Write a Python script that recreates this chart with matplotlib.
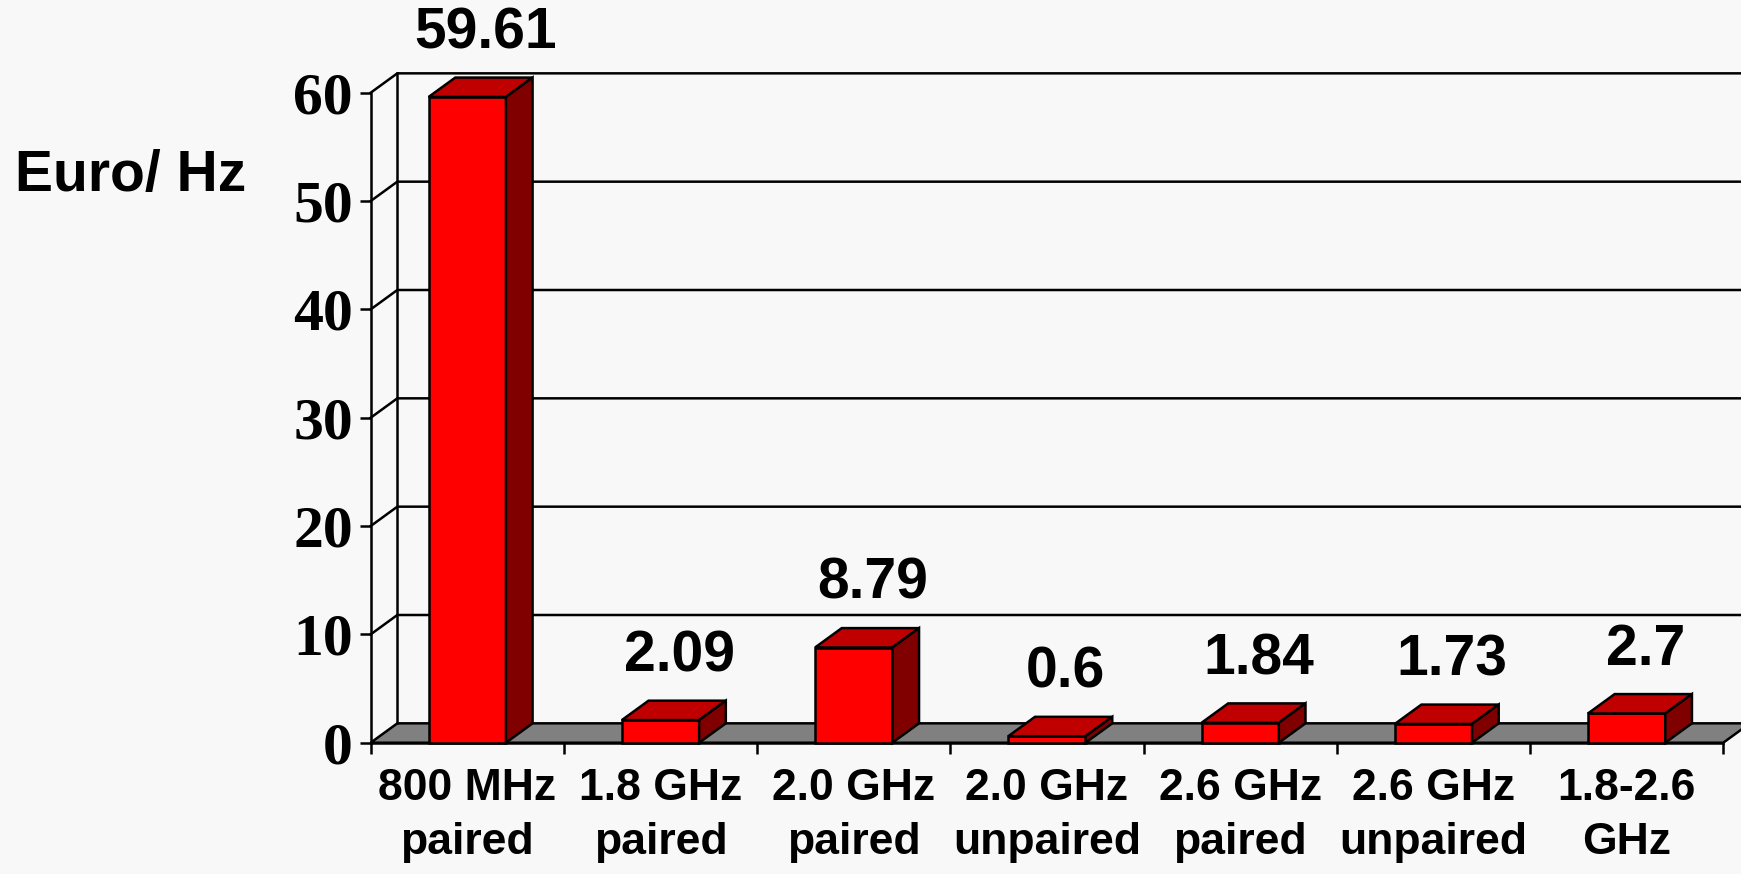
import matplotlib.pyplot as plt
from matplotlib.patches import Polygon

# price per Hz by frequency band
categories = ["800 MHz\npaired", "1.8 GHz\npaired", "2.0 GHz\npaired",
              "2.0 GHz\nunpaired", "2.6 GHz\npaired", "2.6 GHz\nunpaired",
              "1.8-2.6\nGHz"]
prices = [59.61, 2.09, 8.79, 0.6, 1.84, 1.73, 2.7]
y_ticks = [0, 10, 20, 30, 40, 50, 60]

BG = '#f8f8f8'
FRONT = '#ff0000'
TOP = '#c00000'
SIDE = '#800000'
FLOOR = '#808080'

DEPTH_X = 0.138   # oblique depth, in category units
DEPTH_Y = 1.79    # oblique depth, in value units
BAR_W = 0.4
LW = 1.8

SANS = 'Liberation Sans'
SERIF = 'Liberation Serif'


def draw_walls(ax, n, top):
    # floor
    ax.add_patch(Polygon([(0, 0), (n, 0), (n + DEPTH_X, DEPTH_Y), (DEPTH_X, DEPTH_Y)],
                         closed=True, fc=FLOOR, ec='black', lw=LW, zorder=1, clip_on=False))
    # gridlines on the side wall and the back wall
    for v in y_ticks[1:]:
        ax.plot([0, DEPTH_X, n + DEPTH_X], [v, v + DEPTH_Y, v + DEPTH_Y],
                color='black', lw=LW, zorder=1, clip_on=False)
    ax.plot([DEPTH_X, DEPTH_X], [DEPTH_Y, top + DEPTH_Y], color='black', lw=LW,
            zorder=1, clip_on=False)
    ax.plot([n + DEPTH_X, n + DEPTH_X], [DEPTH_Y, top + DEPTH_Y], color='black', lw=LW,
            zorder=1, clip_on=False)


def draw_bar(ax, xc, v):
    x0 = xc - BAR_W / 2
    x1 = xc + BAR_W / 2
    faces = [
        ([(x0, 0), (x1, 0), (x1, v), (x0, v)], FRONT),
        ([(x0, v), (x1, v), (x1 + DEPTH_X, v + DEPTH_Y), (x0 + DEPTH_X, v + DEPTH_Y)], TOP),
        ([(x1, 0), (x1 + DEPTH_X, DEPTH_Y), (x1 + DEPTH_X, v + DEPTH_Y), (x1, v)], SIDE),
    ]
    for pts, col in faces:
        ax.add_patch(Polygon(pts, closed=True, fc=col, ec='black', lw=LW,
                             zorder=3, clip_on=False, joinstyle='miter'))


def main():
    n = len(categories)
    fig = plt.figure(figsize=(17.41, 8.74), dpi=100, facecolor=BG)
    ax = fig.add_axes([0.2129, 0.1502, 0.7769, 0.7437])
    ax.set_facecolor('none')
    ax.set_xlim(0, n)
    ax.set_ylim(0, y_ticks[-1])

    for s in ['top', 'right']:
        ax.spines[s].set_visible(False)
    for s in ['left', 'bottom']:
        ax.spines[s].set_linewidth(LW)
        ax.spines[s].set_zorder(2)

    draw_walls(ax, n, y_ticks[-1])

    for i, v in enumerate(prices):
        xc = i + 0.5
        draw_bar(ax, xc, v)
        ax.annotate(str(v), (xc + 0.7 * DEPTH_X, v + DEPTH_Y), xytext=(0, 21),
                    textcoords='offset points', ha='center', va='baseline',
                    fontsize=41, fontweight='bold', family=SANS, annotation_clip=False)

    # y axis: serif numbers
    ax.set_yticks(y_ticks)
    ax.set_yticklabels([str(t) for t in y_ticks], fontsize=43, fontweight='bold',
                       family=SERIF)
    ax.tick_params(axis='y', length=7.7, width=LW, pad=5, direction='out')

    # x axis: ticks between categories, labels centred on categories
    ax.set_xticks(range(n + 1))
    ax.set_xticklabels([''] * (n + 1))
    ax.tick_params(axis='x', which='major', length=8, width=LW, direction='out')
    ax.set_xticks([i + 0.5 for i in range(n)], minor=True)
    ax.set_xticklabels(categories, minor=True, fontsize=32, fontweight='bold',
                       family=SANS, linespacing=1.42)
    ax.tick_params(axis='x', which='minor', length=0, pad=18)

    fig.text(15 / 1741, 1 - 176 / 874, 'Euro/ Hz', ha='left', va='center',
             fontsize=41, fontweight='bold', family=SANS)

    fig.savefig('out.png', dpi=100, facecolor=BG)


if __name__ == "__main__":
    main()
